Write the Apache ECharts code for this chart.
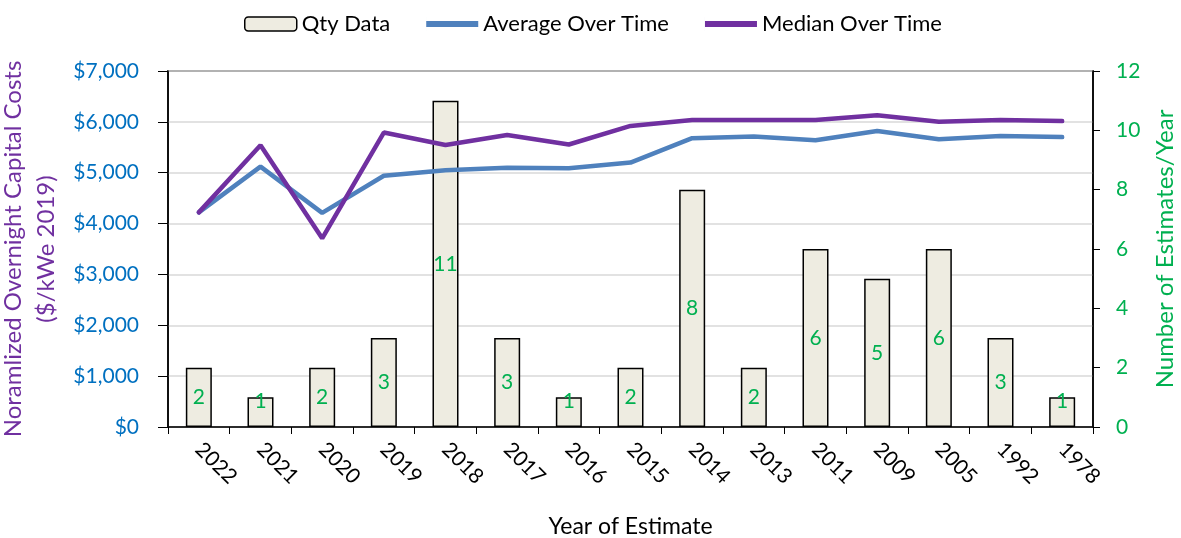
<!DOCTYPE html>
<html><head><meta charset="utf-8">
<script src="https://cdn.jsdelivr.net/npm/echarts@6/dist/echarts.min.js"></script>
<style>html,body{margin:0;padding:0;background:#fff}#c{width:1181px;height:538px}</style>
</head><body><div id="c"></div>
<script>
const categories = ['2022','2021','2020','2019','2018','2017','2016','2015','2014','2013','2011','2009','2005','1992','1978'];
const qtyData = [2,1,2,3,11,3,1,2,8,2,6,5,6,3,1];
const averageOverTime = [4220,5120,4210,4940,5050,5100,5090,5200,5680,5710,5640,5820,5660,5720,5700];
const medianOverTime = [4220,5540,3710,5790,5545,5740,5555,5920,6035,6035,6035,6130,6000,6035,6015];
const leftTicks = {min:0, max:7000, interval:1000};
const rightTicks = {min:0, max:12, interval:2};

const FONT = 'Lato';
const LINE_ICON = 'path://M0,0h0.01v14h-0.01z M0,4h52v6h-52z';
// short bars: label sits over the top edge, as in the reference
const barData = qtyData.map(v => v === 1 ? {value:v, label:{offset:[0,-11]}} : v);
const chart = echarts.init(document.getElementById('c'));
chart.setOption({
  animation:false,
  textStyle:{fontFamily:FONT},
  legend:{
    top:8, left:239, itemGap:36, itemWidth:52, itemHeight:14,
    textStyle:{fontFamily:FONT, fontSize:22, color:'#000'},
    data:[{name:'Qty Data', itemStyle:{color:'#EEECE1', borderColor:'#000', borderWidth:1.5}},
          {name:'Average Over Time', icon:LINE_ICON, itemStyle:{color:'#4F81BD', borderWidth:0}},
          {name:'Median Over Time', icon:LINE_ICON, itemStyle:{color:'#7030A0', borderWidth:0}}]
  },
  grid:{left:168, right:88, top:71, bottom:111, containLabel:false, outerBoundsMode:'none',
        show:true, borderColor:'#000', borderWidth:1.5, backgroundColor:'transparent'},
  xAxis:{
    type:'category', data:categories,
    name:'Year of Estimate', nameLocation:'middle', nameGap:88,
    nameTextStyle:{fontFamily:FONT, fontSize:23, color:'#000'},
    axisLine:{lineStyle:{color:'#000', width:1.5}},
    axisTick:{show:true, alignWithLabel:false, length:7, lineStyle:{color:'#000'}},
    axisLabel:{rotate:-45, fontFamily:FONT, fontSize:21, color:'#000', margin:19}
  },
  yAxis:[{
    type:'value', min:leftTicks.min, max:leftTicks.max, interval:leftTicks.interval,
    name:'Noramlized Overnight Capital Costs\n($/kWe 2019)', nameLocation:'middle', nameGap:101, nameRotate:90,
    nameTextStyle:{fontFamily:FONT, fontSize:24, color:'#7030A0', lineHeight:33},
    axisLine:{show:true, lineStyle:{color:'#000', width:1.5}},
    axisTick:{show:true, length:10, lineStyle:{color:'#000'}},
    axisLabel:{fontFamily:FONT, fontSize:21, color:'#0070C0', margin:29,
      formatter:v=>'$'+v.toLocaleString('en-US')},
    splitLine:{show:true, lineStyle:{color:'#D9D9D9', width:1.5}}
  },{
    type:'value', min:rightTicks.min, max:rightTicks.max, interval:rightTicks.interval,
    name:'Number of Estimates/Year', nameLocation:'middle', nameGap:60, nameRotate:90,
    nameTextStyle:{fontFamily:FONT, fontSize:24, color:'#00B050'},
    axisLine:{show:true, lineStyle:{color:'#000', width:1.5}},
    axisTick:{show:true, length:7, lineStyle:{color:'#000'}},
    axisLabel:{fontFamily:FONT, fontSize:21, color:'#00B050', margin:23},
    splitLine:{show:false}
  }],
  series:[{
    name:'Qty Data', type:'bar', yAxisIndex:1, data:barData, barWidth:26,
    itemStyle:{color:'#EEECE1', borderColor:'#000', borderWidth:1.5},
    label:{show:true, position:'inside', fontFamily:FONT, fontSize:21, color:'#00B050'},
    z:1
  },{
    name:'Average Over Time', type:'line', yAxisIndex:0, data:averageOverTime,
    showSymbol:false, symbol:'none', lineStyle:{color:'#4F81BD', width:4.5, cap:'round'},
    itemStyle:{color:'#4F81BD'}, z:3
  },{
    name:'Median Over Time', type:'line', yAxisIndex:0, data:medianOverTime,
    showSymbol:false, symbol:'none', lineStyle:{color:'#7030A0', width:4.5, cap:'round'},
    itemStyle:{color:'#7030A0'}, z:4
  }]
});
</script></body></html>
